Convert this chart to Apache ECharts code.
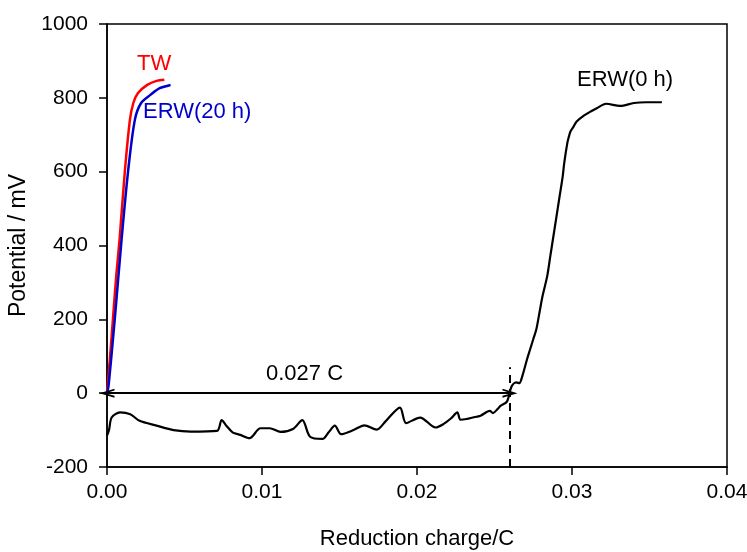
<!DOCTYPE html>
<html>
<head>
<meta charset="utf-8">
<script src="https://cdn.jsdelivr.net/npm/echarts@6/dist/echarts.min.js"></script>
<style>
  html, body {margin: 0; padding: 0; background: #fff;}
  #chart {width: 747px; height: 552px;}
</style>
</head>
<body>
<div id="chart"></div>
<script>
// reduction charge (C) / potential (mV)
const twCharge = [0, 0.0002, 0.0004, 0.0006, 0.00081, 0.00116, 0.00148, 0.0017, 0.002, 0.0026, 0.0032, 0.0037];
const twPotential = [0, 100, 210, 320, 416, 605, 741, 786, 813, 835, 846, 849];

const erw20Charge = [0, 0.0001, 0.0005, 0.00094, 0.00137, 0.0018, 0.0022, 0.0028, 0.0034, 0.0041];
const erw20Potential = [0, 20, 200, 416, 605, 741, 786, 808, 826, 835];

const erw0Charge = [0, 0.00013, 0.0003, 0.00084, 0.0015, 0.0021, 0.0032, 0.0043, 0.0054, 0.0071, 0.0074,
  0.0077, 0.0081, 0.0086, 0.0092, 0.0099, 0.0105, 0.0112, 0.0120, 0.0126, 0.0131, 0.0139, 0.0143,
  0.0147, 0.0151, 0.0159, 0.0166, 0.0174, 0.0180, 0.0189, 0.0193, 0.0202, 0.0212, 0.0217, 0.0222,
  0.0226, 0.0228, 0.0232, 0.0236, 0.0241, 0.0247, 0.0249, 0.0252, 0.0254, 0.0258, 0.0261, 0.0264,
  0.0266, 0.0268, 0.0271, 0.0273, 0.0275, 0.0277, 0.0279, 0.0281, 0.0284, 0.0286, 0.0288, 0.0290,
  0.0292, 0.0294, 0.0295, 0.0297, 0.0298, 0.0299, 0.0301, 0.0303, 0.0307, 0.0312, 0.0316, 0.0322,
  0.0331, 0.0340, 0.0348, 0.0358];
const erw0Potential = [-115, -100, -66, -52, -57, -75, -88, -100, -104, -102, -73,
  -88, -106, -113, -122, -95, -95, -105, -97, -73, -118, -124, -106,
  -88, -111, -100, -87, -99, -75, -39, -81, -66, -93, -84, -68,
  -52, -72, -70, -66, -61, -48, -54, -43, -34, -23, 18, 29,
  27, 47, 92, 119, 146, 173, 218, 263, 317, 371, 425, 479,
  533, 587, 624, 678, 695, 709, 722, 736, 750, 763, 772, 784,
  778, 786, 788, 788];

const onsetCharge = 0.026;
const onsetTop = 70;
const onsetLabel = '0.027 C';

const zip = (xs, ys) => xs.map((x, i) => [x, ys[i]]);

const chart = echarts.init(document.getElementById('chart'));
const font = 'Liberation Sans, Arial, sans-serif';
// open chevron arrow head, pointing up
const chevron = 'path://M5,0 L10,15 L8,15 L5,6 L2,15 L0,15 Z';

chart.setOption({
  animation: false,
  textStyle: {fontFamily: font},
  grid: {left: 107, right: 20, top: 24, bottom: 85, outerBoundsMode: 'none', containLabel: false},
  xAxis: {
    type: 'value',
    min: 0, max: 0.04, interval: 0.01,
    name: 'Reduction charge/C',
    nameLocation: 'middle',
    nameGap: 61,
    nameTextStyle: {fontSize: 22, color: '#000', fontFamily: font},
    axisLine: {onZero: false, lineStyle: {color: '#000', width: 1.5}},
    axisTick: {show: true, inside: false, length: 8, lineStyle: {color: '#000', width: 1.5}},
    axisLabel: {
      fontSize: 21, color: '#000', margin: 15, fontFamily: font,
      formatter: v => v.toFixed(2)
    },
    splitLine: {show: false}
  },
  yAxis: {
    type: 'value',
    min: -200, max: 1000, interval: 200,
    name: 'Potential / mV',
    nameLocation: 'middle',
    nameGap: 71,
    nameRotate: 90,
    nameTextStyle: {fontSize: 23, color: '#000', fontFamily: font},
    axisLine: {onZero: false, lineStyle: {color: '#000', width: 1.5}},
    axisTick: {show: true, inside: false, length: 8, lineStyle: {color: '#000', width: 1.5}},
    axisLabel: {fontSize: 21, color: '#000', margin: 19, fontFamily: font, formatter: v => String(v)},
    splitLine: {show: false}
  },
  graphic: [
    {type: 'rect', shape: {x: 107, y: 24, width: 620, height: 443},
      style: {fill: 'none', stroke: '#000', lineWidth: 1.5}, silent: true, z: 0},
    {type: 'text', left: 137, top: 53, style: {text: 'TW', fill: '#ff0000', font: '22px ' + font}},
    {type: 'text', left: 143, top: 101, style: {text: 'ERW(20 h)', fill: '#0000cc', font: '22px ' + font}},
    {type: 'text', left: 577, top: 69, style: {text: 'ERW(0 h)', fill: '#000', font: '22px ' + font}},
    {type: 'text', left: 266, top: 363, style: {text: onsetLabel, fill: '#000', font: '22px ' + font}}
  ],
  series: [
    {
      name: 'ERW(0 h)', type: 'line', data: zip(erw0Charge, erw0Potential),
      showSymbol: false, smooth: 0.3, lineStyle: {color: '#000', width: 2.2},
      markLine: {
        silent: true,
        label: {show: false},
        symbolSize: [9, 15],
        lineStyle: {color: '#000', width: 1.8, type: 'solid'},
        data: [
          [{coord: [0, 0], symbol: chevron}, {coord: [onsetCharge, 0], symbol: chevron}],
          [{coord: [onsetCharge, -200], symbol: 'none', lineStyle: {type: [8, 6], width: 2}},
           {coord: [onsetCharge, onsetTop], symbol: 'none'}]
        ]
      }
    },
    {
      name: 'TW', type: 'line', data: zip(twCharge, twPotential),
      showSymbol: false, smooth: 0.3, lineStyle: {color: '#ff0000', width: 2.5}
    },
    {
      name: 'ERW(20 h)', type: 'line', data: zip(erw20Charge, erw20Potential),
      showSymbol: false, smooth: 0.3, lineStyle: {color: '#0000cc', width: 2.5}
    }
  ]
});
</script>
</body>
</html>
